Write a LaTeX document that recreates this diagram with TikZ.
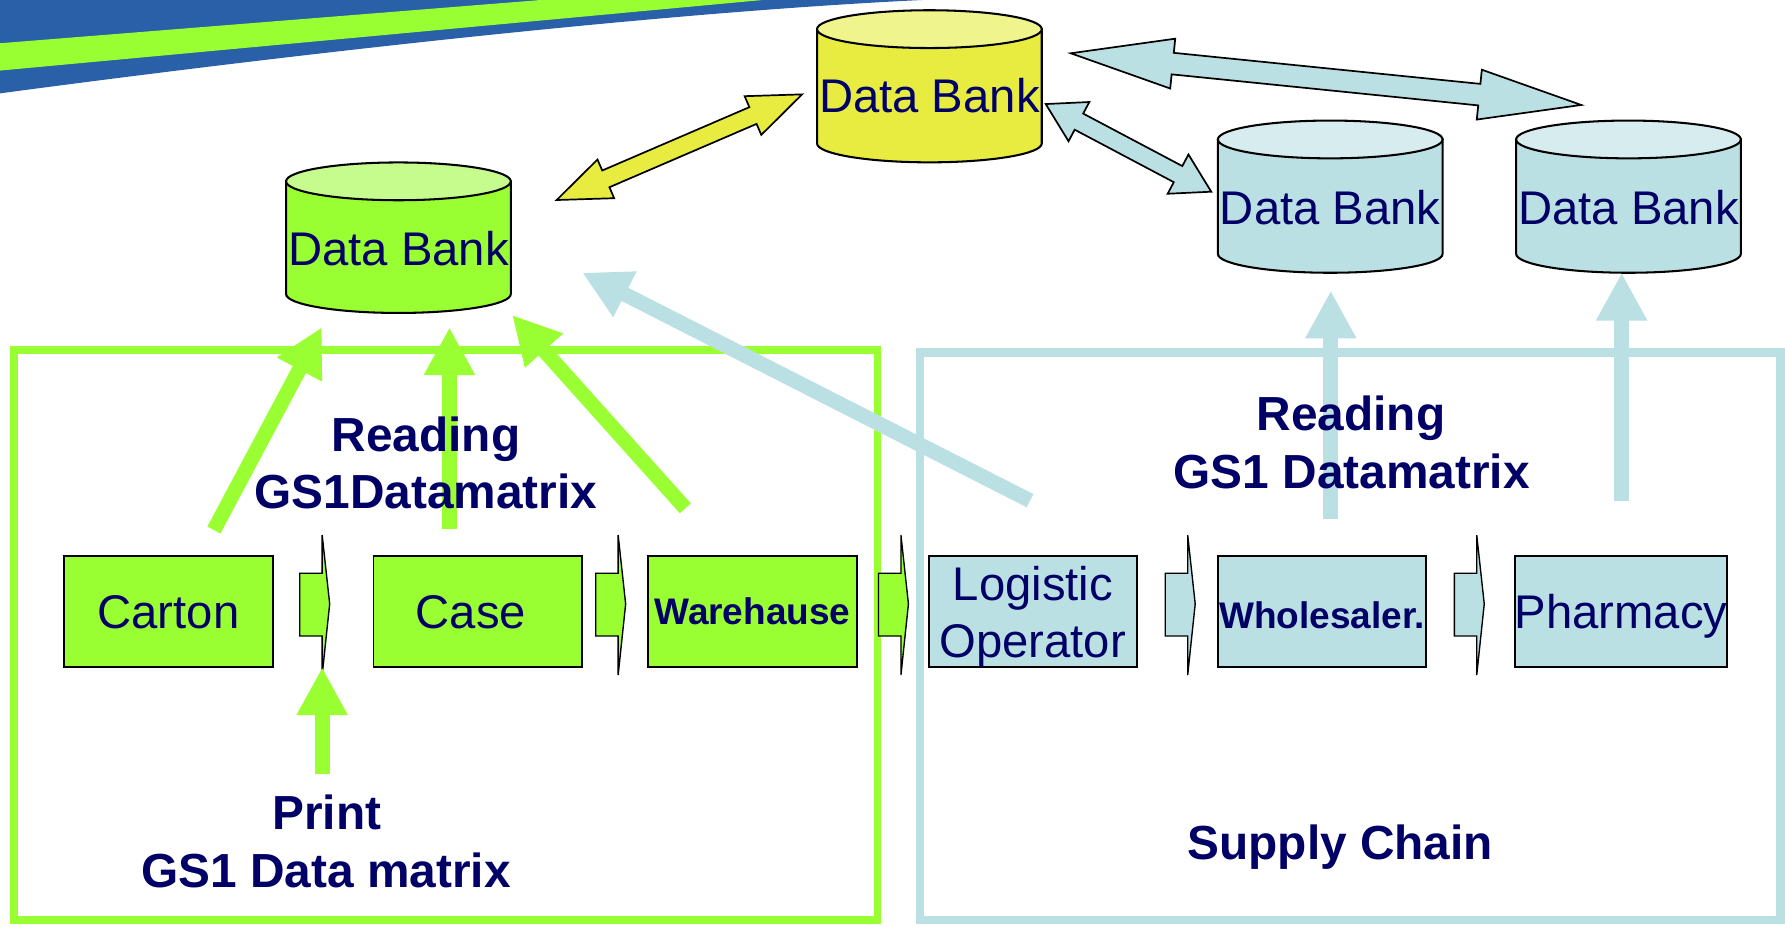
\documentclass[tikz,border=0pt]{standalone}
\usepackage{fontspec}
\setmainfont{Liberation Sans}
\usetikzlibrary{arrows.meta,calc}
\definecolor{navy}{HTML}{000066}
\definecolor{ggreen}{HTML}{99FF33}
\definecolor{gtop}{HTML}{C6FB8E}
\definecolor{ybody}{HTML}{E8EC40}
\definecolor{ytop}{HTML}{F0F48C}
\definecolor{lblue}{HTML}{BBE0E3}
\definecolor{btop}{HTML}{D6ECEE}
\definecolor{bannerblue}{HTML}{2A60A8}
\tikzset{
  cylline/.style={draw=black, line width=1.8pt},
  regtxt/.style={text=navy, inner sep=0pt, font=\fontsize{41.5}{49}\selectfont},
  btxt/.style={text=navy, inner sep=0pt, font=\fontsize{42}{49}\selectfont\bfseries},
  procbox/.style={draw=black, line width=1.5pt, minimum width=183pt, minimum height=97.5pt, inner sep=0pt, text=navy},
  boxg/.style={procbox, fill=ggreen},
  boxb/.style={procbox, fill=lblue},
  bigtxt/.style={font=\fontsize{41.5}{49}\selectfont, text height=29.7pt, text depth=0pt},
  smalltxt/.style={font=\fontsize{32.5}{40}\selectfont\bfseries, text height=23.3pt, text depth=0pt},
  gframe/.style={draw=ggreen, line width=7pt},
  bframe/.style={draw=lblue, line width=7.5pt},
  garrow/.style={draw=ggreen, line width=13pt, -{Triangle[length=42pt,width=42pt]}},
  barrow/.style={draw=lblue, line width=13pt, -{Triangle[length=42pt,width=42pt]}},
  chevline/.style={draw=black, line width=1.2pt},
  dblyellow/.style={draw=black, line width=1.5pt, fill=ybody},
  dblblue/.style={draw=black, line width=1.5pt, fill=lblue},
}
% cylinder: name, cx, top centre y, bottom centre y, body colour, top colour
\newcommand\dbcyl[6]{%
  \coordinate (#1) at (#2,{(#3+#4)/2});
  \filldraw[cylline, fill=#5] (#2-98.7,#3) -- (#2-98.7,#4)
     arc[start angle=180, end angle=0, x radius=98.7, y radius=16.6]
     -- (#2+98.7,#3) -- cycle;
  \filldraw[cylline, fill=#6] (#2,#3) ellipse[x radius=98.7, y radius=16.6];
}
% double block arrow: style, A, B, head length, head half width, shaft half width
\newcommand\dblblock[6]{%
  \draw[#1] (#2) -- ($(#2)!#4!(#3)!#5!90:(#3)$) -- ($(#2)!#4!(#3)!#6!90:(#3)$)
    -- ($(#3)!#4!(#2)!#6!-90:(#2)$) -- ($(#3)!#4!(#2)!#5!-90:(#2)$) -- (#3)
    -- ($(#3)!#4!(#2)!#5!90:(#2)$) -- ($(#3)!#4!(#2)!#6!90:(#2)$)
    -- ($(#2)!#4!(#3)!#6!-90:(#3)$) -- ($(#2)!#4!(#3)!#5!-90:(#3)$) -- cycle;
}
% chevron: left x, fill colour
\newcommand\chev[2]{%
  \filldraw[chevline, fill=#2] (#1,503.6) -- (#1+19.7,503.6) -- (#1+19.7,470)
    -- (#1+26.3,530.5) -- (#1+19.7,593) -- (#1+19.7,558.7) -- (#1,558.7) -- cycle;
}
\begin{document}
\begin{tikzpicture}[x=1pt,y=-1pt]
\useasboundingbox (0,0) rectangle (1568,814);
\fill[white] (0,0) rectangle (1568,814);
% banner
\fill[bannerblue] (0,0) -- (810,0) .. controls (600,10) and (300,42) .. (0,82) -- cycle;
\fill[ggreen] (0,38) -- (475,0) -- (670,0) -- (0,62) -- cycle;

% frames
\draw[gframe] (12.6,307.6) rectangle (770.8,808);
\draw[bframe] (808,309.5) rectangle (1564,808);

% data banks
\dbcyl{gdb}{350}{159.3}{258.3}{ggreen}{gtop}
\dbcyl{ydb}{816.4}{25.6}{126}{ybody}{ytop}
\dbcyl{wdb}{1168.5}{122.5}{223}{lblue}{btop}
\dbcyl{pdb}{1430.5}{122.5}{223}{lblue}{btop}
\node[regtxt, anchor=base] (gdbt) at (350,232.8) {Data Bank};
\node[regtxt, anchor=base] (ydbt) at (816.4,99) {Data Bank};
\node[regtxt, anchor=base] (wdbt) at (1168.5,197.5) {Data Bank};
\node[regtxt, anchor=base] (pdbt) at (1430.5,197.5) {Data Bank};

% double block arrows between data banks
\coordinate (ya) at (489,175.7);   \coordinate (yb) at (704.6,82.9);
\coordinate (b1a) at (918.6,91.4); \coordinate (b1b) at (1064,168.4);
\coordinate (b2a) at (940.6,46.8); \coordinate (b2b) at (1389,92.2);
\dblblock{dblyellow}{ya}{yb}{47pt}{18.5pt}{8pt}
\dblblock{dblblue}{b1a}{b1b}{33pt}{19.5pt}{8pt}
\dblblock{dblblue}{b2a}{b2b}{90pt}{22pt}{9.5pt}

% process boxes
\node[boxg, bigtxt] (carton) at (148,537.3) {Carton};
\node[boxg, bigtxt] (case) at (419.7,537.3) {\hspace*{-12pt}Case};
\node[boxg, smalltxt] (wareh) at (661,537.3) {Warehause};
\node[boxb] (logi) at (907.5,537.3) {};
\node[regtxt, anchor=base] (logi1) at (907.4,527.3) {Logistic};
\node[regtxt, anchor=base] (logi2) at (907,577.7) {Operator};
\node[boxb, smalltxt, text height=29pt] (whole) at (1161.2,537.3) {Wholesaler.};
\node[boxb, bigtxt] (pharm) at (1423.9,537.3) {Pharmacy};

% chevrons between boxes
\chev{263.3}{ggreen}
\chev{523.3}{ggreen}
\chev{771.7}{ggreen}
\chev{1023.6}{lblue}
\chev{1277.5}{lblue}

% reading / printing arrows
\coordinate (g1s) at (187.9,465.6);  \coordinate (g1e) at (282.7,287.5);
\coordinate (g2s) at (394.8,465);    \coordinate (g2e) at (394.8,287.5);
\coordinate (g3s) at (602,446.5);    \coordinate (g3e) at (449.9,276.7);
\coordinate (prs) at (283,679.6);    \coordinate (pre) at (283,586.2);
\coordinate (bds) at (904.8,439.8);  \coordinate (bde) at (511.5,239.5);
\coordinate (bws) at (1169,455.6);   \coordinate (bwe) at (1169,255.3);
\coordinate (bps) at (1424.5,439.8); \coordinate (bpe) at (1424.5,239.6);
\draw[garrow] (g1s) -- (g1e);
\draw[garrow] (g2s) -- (g2e);
\draw[garrow] (g3s) -- (g3e);
\draw[garrow] (prs) -- (pre);
\draw[barrow] (bds) -- (bde);
\draw[barrow] (bws) -- (bwe);
\draw[barrow] (bps) -- (bpe);

% labels
\node[btxt, anchor=base] (rdl1) at (374.3,396.8) {Reading};
\node[btxt, anchor=base] (rdl2) at (374.2,446.5) {GS1Datamatrix};
\node[btxt, anchor=base] (prl1) at (287,729) {Print};
\node[btxt, anchor=base] (prl2) at (286.4,779.3) {GS1 Data matrix};
\node[btxt, anchor=base] (rdr1) at (1186.8,377.8) {Reading};
\node[btxt, anchor=base] (rdr2) at (1187.4,429) {GS1 Datamatrix};
\node[btxt, anchor=base] (sc) at (1177.3,755.2) {Supply Chain};
\end{tikzpicture}
\end{document}
